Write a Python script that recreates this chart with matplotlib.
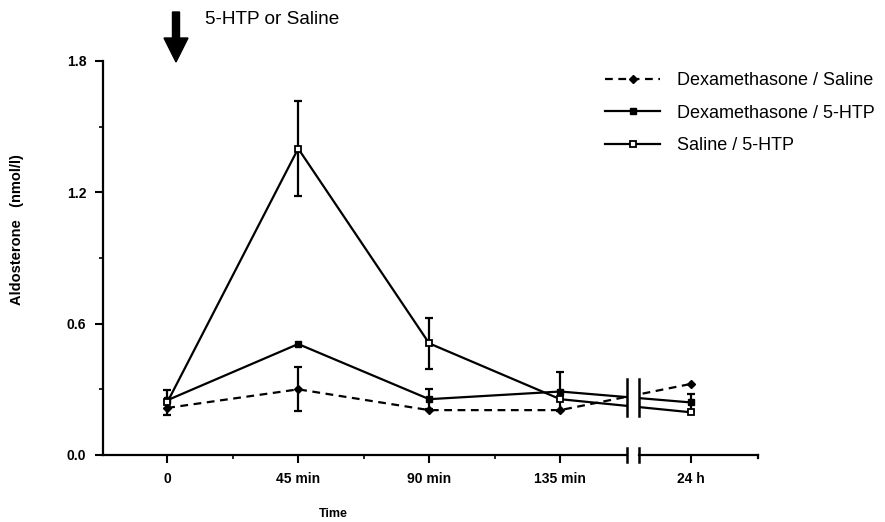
import numpy as np
import matplotlib
matplotlib.use("Agg")
import matplotlib.pyplot as plt
from matplotlib.patches import Rectangle, FancyArrow

plt.rcParams['font.family'] = ['Liberation Sans', 'DejaVu Sans']

# data
tick_labels = ["0", "45 min", "90 min", "135 min", "24 h"]
x_pos = [0, 1, 2, 3, 4]

dex_saline = [0.215, 0.30, 0.205, 0.205, 0.325]
dex_saline_err = [0.0, 0.10, 0.0, 0.0, 0.0]
dex_htp = [0.25, 0.507, 0.255, 0.29, 0.24]
dex_htp_err = [0.0, 0.0, 0.045, 0.09, 0.04]
sal_htp = [0.24, 1.40, 0.51, 0.255, 0.195]
sal_htp_err = [0.055, 0.215, 0.115, 0.0, 0.0]

fig = plt.figure(figsize=(8.85, 5.22), dpi=100)
ax = fig.add_axes([103/885, 1-455/522, (758-103)/885, (455-61)/522])

xlim = (-0.49, 4.51)
ax.set_xlim(*xlim)
ax.set_ylim(0, 1.8)

lw = 1.6
series = [
    (dex_saline, dex_saline_err, dict(ls=(0, (3.5, 2.5)), marker='D', ms=4.5, mfc='black', mec='black'), "Dexamethasone / Saline"),
    (dex_htp, dex_htp_err, dict(ls='-', marker='s', ms=4.5, mfc='black', mec='black'), "Dexamethasone / 5-HTP"),
    (sal_htp, sal_htp_err, dict(ls='-', marker='s', ms=5, mfc='white', mec='black', mew=1.3), "Saline / 5-HTP"),
]
handles = []
for vals, errs, st, lab in series:
    h, = ax.plot(x_pos, vals, color='black', lw=lw, label=lab, zorder=3, **st)
    handles.append(h)
    errs = np.asarray(errs)
    idx = np.where(errs > 0)[0]
    if len(idx):
        ax.errorbar(np.asarray(x_pos)[idx], np.asarray(vals)[idx], yerr=errs[idx],
                    fmt='none', ecolor='black', elinewidth=1.6, capsize=3.2, capthick=1.6, zorder=2)

# break
b1, b2 = 3.51, 3.60
ax.add_patch(Rectangle((b1, 0.02), b2-b1, 1.7, facecolor='white', edgecolor='none', zorder=4))
for bx in (b1, b2):
    ax.plot([bx, bx], [0.18, 0.345], color='black', lw=1.8, zorder=5)
    ax.plot([bx, bx], [-0.03, 0.03], color='black', lw=1.8, zorder=5, clip_on=False)

# spines
ax.spines['top'].set_visible(False)
ax.spines['right'].set_visible(False)
ax.spines['bottom'].set_visible(False)
ax.spines['left'].set_linewidth(1.6)
ax.plot([xlim[0], b1], [0, 0], color='black', lw=1.6, clip_on=False, zorder=5)
ax.plot([b2, xlim[1]], [0, 0], color='black', lw=1.6, clip_on=False, zorder=5)
ax.plot([xlim[1], xlim[1]], [0, -0.015], color='black', lw=1.6, clip_on=False, zorder=5)

ax.set_xticks(x_pos)
ax.set_xticklabels(tick_labels, fontsize=10, fontweight='bold')
ax.set_xticks([0.5, 1.5, 2.5], minor=True)
ax.set_yticks([0.0, 0.6, 1.2, 1.8])
ax.set_yticklabels(["0.0", "0.6", "1.2", "1.8"], fontsize=10, fontweight='bold')
ax.set_yticks([0.3, 0.9, 1.5], minor=True)
ax.tick_params(axis='both', which='major', direction='out', length=6, width=1.5, pad=6)
ax.tick_params(axis='both', which='minor', direction='out', length=3, width=1.2)

fig.text(17/885, 1-230/522, "Aldosterone   (nmol/l)", rotation=90, ha='center', va='center',
         fontsize=10.5, fontweight='bold')
fig.text(333/885, 1-514/522, "Time", ha='center', va='center', fontsize=9, fontweight='bold')

# arrow
arr = FancyArrow(176/885, 1-12/522, 0, -(50)/522, width=7/885, head_width=24/885,
                 head_length=24/522, length_includes_head=True, color='black',
                 transform=fig.transFigure)
fig.patches.append(arr)
fig.text(205/885, 1-20/522, "5-HTP or Saline", ha='left', va='center', fontsize=13.7)

leg = ax.legend(handles=handles, loc='upper left', bbox_to_anchor=(589/885, 1-56/522),
                bbox_transform=fig.transFigure, frameon=False, fontsize=13,
                handlelength=3.05, handletextpad=0.95, labelspacing=0.85)

fig.savefig("out.png", dpi=100)
